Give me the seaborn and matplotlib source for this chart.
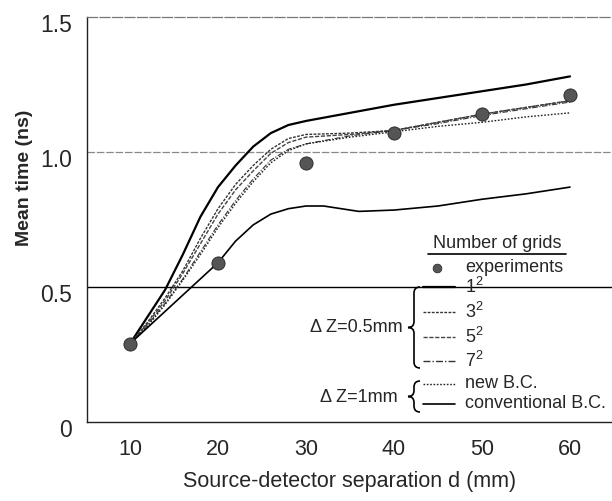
import numpy as np
import pandas as pd
import matplotlib
matplotlib.use("Agg")
import matplotlib.pyplot as plt
import seaborn as sns
from matplotlib.path import Path
from matplotlib.patches import PathPatch
from matplotlib.lines import Line2D
from matplotlib.transforms import ScaledTranslation

# ---------------- data ----------------
exp_d = [10, 20, 30, 40, 50, 60]
exp_t = [0.29, 0.59, 0.96, 1.07, 1.14, 1.21]

d_grid = [10, 12, 14, 16, 18, 20, 22, 24, 26, 28, 30, 35, 40, 45, 50, 55, 60]
t_1 = [0.29, 0.39, 0.49, 0.62, 0.76, 0.87, 0.95, 1.02, 1.07, 1.10, 1.115, 1.145, 1.175, 1.20, 1.225, 1.25, 1.28]
t_3 = [0.29, 0.37, 0.46, 0.56, 0.68, 0.79, 0.88, 0.95, 1.01, 1.05, 1.065, 1.07, 1.08, 1.11, 1.14, 1.165, 1.19]
t_5 = [0.29, 0.365, 0.45, 0.55, 0.66, 0.77, 0.86, 0.93, 0.995, 1.035, 1.055, 1.065, 1.08, 1.11, 1.14, 1.165, 1.19]
t_7 = [0.29, 0.36, 0.44, 0.53, 0.63, 0.73, 0.82, 0.90, 0.97, 1.01, 1.03, 1.06, 1.08, 1.105, 1.135, 1.16, 1.185]
t_new = [0.29, 0.355, 0.435, 0.525, 0.62, 0.72, 0.81, 0.89, 0.96, 1.005, 1.03, 1.055, 1.075, 1.095, 1.11, 1.13, 1.145]

d_conv = [10, 15, 20, 22, 24, 26, 28, 30, 32, 34, 36, 40, 45, 50, 55, 60]
t_conv = [0.29, 0.44, 0.59, 0.67, 0.73, 0.77, 0.79, 0.80, 0.80, 0.79, 0.78, 0.785, 0.80, 0.825, 0.845, 0.87]

x_ticks = [10, 20, 30, 40, 50, 60]
y_ticks = [0, 0.5, 1.0, 1.5]
y_ticklabels = ["0", "0.5", "1.0", "1.5"]

legend_labels = ["1$^{2}$", "3$^{2}$", "5$^{2}$", "7$^{2}$", "new B.C.", "conventional B.C."]

# ---------------- style ----------------
sns.set_style("white")
plt.rcParams["font.family"] = ["Liberation Sans", "DejaVu Sans"]
plt.rcParams["mathtext.fontset"] = "custom"
plt.rcParams["mathtext.rm"] = "Liberation Sans"
plt.rcParams["mathtext.it"] = "Liberation Sans"
plt.rcParams["mathtext.default"] = "regular"

W, H = 612, 501
fig = plt.figure(figsize=(W / 100, H / 100), dpi=100)
L, R, T, B = 87, 612, 17, 422
ax = fig.add_axes([L / W, (H - B) / H, (R - L) / W, (B - T) / H])

styles = [
    dict(color="black", lw=1.6, ls="-"),
    dict(color="#333333", lw=1.0, ls=(0, (2, 1))),
    dict(color="#444444", lw=1.0, ls=(0, (3, 1.2))),
    dict(color="#333333", lw=0.8, ls=(0, (5, 1.5, 1, 1.5))),
    dict(color="#222222", lw=1.0, ls=(0, (1.2, 1.2))),
    dict(color="black", lw=1.2, ls="-"),
]
series = [t_1, t_3, t_5, t_7, t_new]
for s, st in zip(series, styles[:5]):
    df = pd.DataFrame({"d": d_grid, "t": s})
    sns.lineplot(data=df, x="d", y="t", ax=ax, color=st["color"], lw=st["lw"],
                 linestyle=st["ls"], legend=False)
dfc = pd.DataFrame({"d": d_conv, "t": t_conv})
sns.lineplot(data=dfc, x="d", y="t", ax=ax, color=styles[5]["color"], lw=styles[5]["lw"],
             linestyle=styles[5]["ls"], legend=False)

dfe = pd.DataFrame({"d": exp_d, "t": exp_t})
sns.scatterplot(data=dfe, x="d", y="t", ax=ax, s=90, color="#555555",
                edgecolor="#222222", linewidth=0.6, zorder=5, legend=False)

# grid lines
ax.axhline(1.0, color="#8a8a8a", lw=0.9, ls=(0, (6, 1.5)), zorder=0)
ax.axhline(0.5, color="black", lw=1.0, zorder=0)

ax.set_xlim(10 - 43 / 8.8, 10 + (612 - 130) / 8.8)
ax.set_ylim(0, 1.5)
ax.set_xticks(x_ticks)
ax.set_yticks(y_ticks)
ax.set_yticklabels(y_ticklabels)
ax.tick_params(axis="x", direction="in", length=9, width=1, pad=12, labelsize=15.5)
ax.tick_params(axis="y", length=0, pad=11, labelsize=16.5)
for lab in ax.get_yticklabels():
    lab.set_transform(lab.get_transform() + ScaledTranslation(0, -4 / 72, fig.dpi_scale_trans))
ax.set_xlabel("Source-detector separation d (mm)", fontsize=15.5, labelpad=8)
ax.set_ylabel("Mean time (ns)", fontsize=14, fontweight="bold")
ax.yaxis.set_label_coords((33 - L) / (R - L), (B - 178) / (B - T))

ax.spines["right"].set_visible(False)
ax.spines["top"].set_color("#777777")
ax.spines["top"].set_linestyle((0, (8, 2)))
ax.spines["top"].set_linewidth(0.9)
ax.spines["left"].set_color("#222222")
ax.spines["bottom"].set_color("#222222")
ax.spines["left"].set_linewidth(1.0)
ax.spines["bottom"].set_linewidth(1.0)


def P(px, py):
    return ((px - L) / (R - L), (B - py) / (B - T))


tr = ax.transAxes
# legend title
ax.text(*P(497, 243), "Number of grids", transform=tr, ha="center", va="center", fontsize=13)
ax.add_line(Line2D(*zip(P(428, 254), P(566, 254)), transform=tr, color="black", lw=1.2))
# experiments
ax.scatter(*P(437, 268), transform=tr, s=40, color="#555555", edgecolor="#222222",
           linewidth=0.5, zorder=6)
ax.text(*P(465, 268), "experiments", transform=tr, ha="left", va="center", fontsize=13)

rows_y = [287, 312, 337, 361, 384, 404]
for yy, lab, st in zip(rows_y, legend_labels, styles):
    ax.add_line(Line2D(*zip(P(423, yy), P(455, yy)), transform=tr, color=st["color"],
                       lw=max(st["lw"], 1.0), linestyle=st["ls"]))
    ax.text(*P(465, yy), lab, transform=tr, ha="left", va="center", fontsize=13)


def brace(x, y_top, y_bot, w=6):
    ym = (y_top + y_bot) / 2
    pts = [P(x + w, y_top), P(x, y_top), P(x, y_top + w),
           P(x, ym - w), P(x, ym), P(x - w, ym),
           P(x, ym), P(x, ym + w),
           P(x, y_bot - w), P(x, y_bot), P(x + w, y_bot)]
    codes = [Path.MOVETO, Path.CURVE3, Path.CURVE3,
             Path.LINETO, Path.CURVE3, Path.CURVE3,
             Path.CURVE3, Path.CURVE3,
             Path.LINETO, Path.CURVE3, Path.CURVE3]
    ax.add_patch(PathPatch(Path(pts, codes), transform=tr, fill=False, lw=1.2,
                           edgecolor="black"))


brace(414, 287, 368)
brace(414, 381, 412)
ax.text(*P(403, 327), "Δ Z=0.5mm", transform=tr, ha="right", va="center", fontsize=13)
ax.text(*P(398, 397), "Δ Z=1mm", transform=tr, ha="right", va="center", fontsize=13)

fig.savefig("out.png", dpi=100)
